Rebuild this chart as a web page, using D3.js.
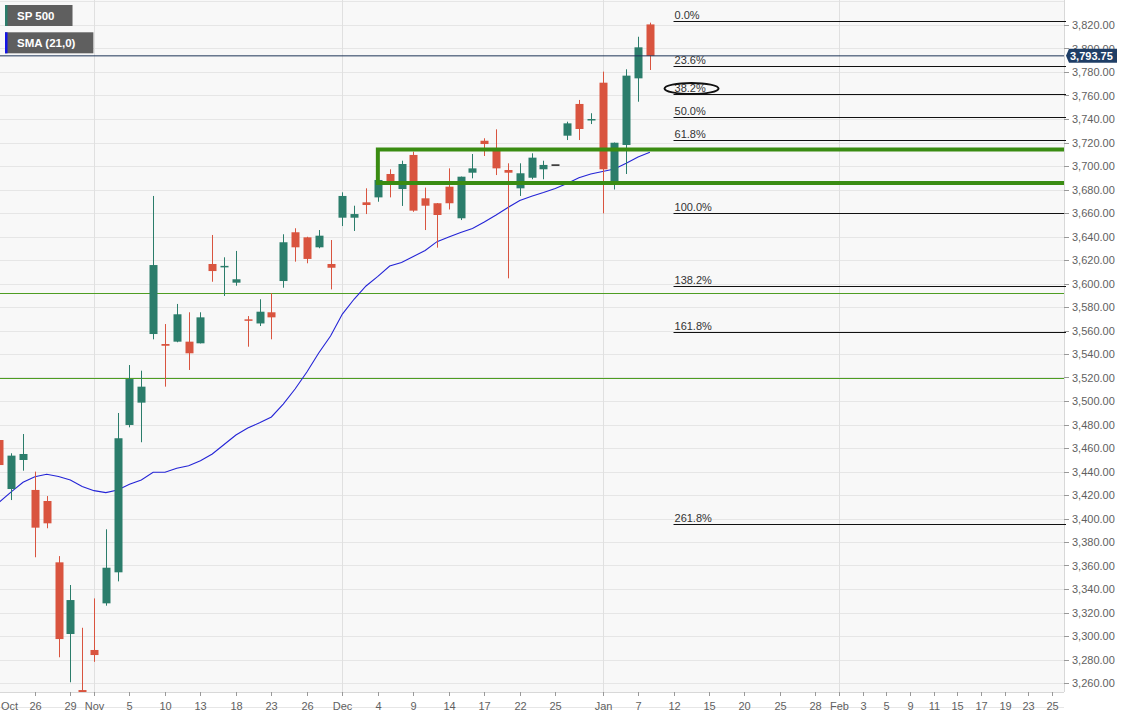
<!DOCTYPE html>
<html><head><meta charset="utf-8">
<script src="https://cdn.jsdelivr.net/npm/d3@7/dist/d3.min.js"></script>
<style>
html,body{margin:0;padding:0;background:#fff;}
text{font-family:"Liberation Sans",Arial,sans-serif;}
</style></head>
<body><svg id="c" width="1135" height="719"></svg>
<script>
// ---- data ----
const barDates = ["2020-10-21","2020-10-22","2020-10-23","2020-10-26","2020-10-27","2020-10-28","2020-10-29","2020-10-30",
"2020-11-02","2020-11-03","2020-11-04","2020-11-05","2020-11-06","2020-11-09","2020-11-10","2020-11-11","2020-11-12","2020-11-13",
"2020-11-16","2020-11-17","2020-11-18","2020-11-19","2020-11-20","2020-11-23","2020-11-24","2020-11-25","2020-11-26","2020-11-27","2020-11-30",
"2020-12-01","2020-12-02","2020-12-03","2020-12-04","2020-12-07","2020-12-08","2020-12-09","2020-12-10","2020-12-11",
"2020-12-14","2020-12-15","2020-12-16","2020-12-17","2020-12-18","2020-12-21","2020-12-22","2020-12-23","2020-12-24","2020-12-25",
"2020-12-28","2020-12-29","2020-12-30","2021-01-04","2021-01-05","2021-01-06","2021-01-07","2021-01-08"];
const futureDates = ["2021-01-11","2021-01-12","2021-01-13","2021-01-14","2021-01-15","2021-01-18","2021-01-19","2021-01-20","2021-01-21","2021-01-22",
"2021-01-25","2021-01-26","2021-01-27","2021-01-28","2021-01-29","2021-02-01","2021-02-02","2021-02-03","2021-02-04","2021-02-05",
"2021-02-08","2021-02-09","2021-02-10","2021-02-11","2021-02-12","2021-02-15","2021-02-16","2021-02-17","2021-02-18","2021-02-19",
"2021-02-22","2021-02-23","2021-02-24","2021-02-25","2021-02-26"];
const open  = [3466.8,3425.1,3449.8,3424.3,3414.9,3362.7,3301.7,3254,
3288.1,3327.8,3354.2,3479.6,3498.6,3557,3548.5,3550.5,3550.5,3549.1,
3616.6,3614.4,3600.7,3569.5,3566,3575.5,3602.1,3643.6,3639.3,3630.8,3616.6,
3656,3656,3669.1,3673.3,3693.2,3680.4,3709.4,3672.5,3668.3,
3682.4,3655.5,3694.3,3721.5,3715.1,3696.6,3681,3690,3697.2,3701.4,
3725.8,3752.8,3739.3,3770.9,3687.2,3717.9,3774.6,3820.5];
const high  = [3468,3455.5,3471.9,3439.9,3419.1,3368,3343.4,3307,
3332,3390.8,3489.8,3530.6,3525.8,3674.5,3565.5,3582.6,3575.5,3575.5,
3641.3,3622.3,3627.7,3572.3,3586.6,3591.7,3641.9,3647,3639.8,3645.5,3637,
3677.6,3666.2,3681,3689.5,3697.2,3704.5,3712.2,3681.6,3668.5,
3698,3691,3710.2,3723.6,3731.2,3702.3,3702.3,3710.8,3704.5,3701.4,
3737.7,3756.2,3744.9,3780.3,3720,3782.3,3810,3822];
const low   = [3431.3,3415.7,3440.7,3367,3391.7,3281.9,3260.6,3240,
3278,3325.8,3346.5,3477.6,3464.9,3552.5,3512.2,3550,3526.4,3549,
3601.5,3589.4,3598.1,3546.2,3563.8,3552.5,3596.4,3618.6,3617.2,3630,3595,
3648.9,3644.7,3659.1,3669.6,3673.3,3666,3661,3645.5,3630.5,
3663,3654,3689.5,3708.5,3692.3,3604.4,3674.5,3688.7,3688.7,3701.4,
3722.1,3722.1,3735.7,3659.7,3680,3693.2,3754.7,3781.7];
const close = [3445.5,3453.5,3454.9,3392.2,3395.9,3297.4,3330.6,3249,
3283.8,3358.1,3468.3,3518.7,3512.2,3615.7,3547,3573.8,3540.6,3571.2,
3610.6,3615,3603.6,3568.5,3576,3571.2,3635.1,3630.8,3620.9,3640.7,3613.4,
3674.5,3659.1,3666.8,3688.1,3686.1,3701.7,3662,3666.2,3658.3,
3668.3,3690.9,3698,3718.7,3698,3694.3,3693.8,3707.1,3700.9,3701.4,
3736.3,3731.5,3740,3697.2,3719.8,3776.9,3801,3793.75];
const sma21 = [3414,3422.6,3430.8,3435.6,3437.6,3435.7,3432.8,3427.2,
3423.7,3422,3424.3,3429.1,3432.8,3439.3,3439.3,3442.7,3444.9,3449.2,
3454.9,3463,3471.1,3477,3481.5,3486.4,3497.4,3510.2,3524.7,3540.9,3555.3,
3574,3586.8,3597.9,3606,3614.9,3617.9,3623,3628.1,3635.6,
3639.6,3643.4,3646.8,3652.3,3658.3,3664.7,3670.6,3674.2,3677.4,3680.9,
3685.1,3690,3693.2,3695.3,3697.4,3702.3,3707.7,3711.7];
const tickDates  = ["2020-10-21","2020-10-26","2020-10-29","2020-11-02","2020-11-05","2020-11-10","2020-11-13","2020-11-18","2020-11-23","2020-11-26",
"2020-12-01","2020-12-04","2020-12-09","2020-12-14","2020-12-17","2020-12-22","2020-12-25","2021-01-04","2021-01-07","2021-01-12","2021-01-15",
"2021-01-20","2021-01-25","2021-01-28","2021-02-01","2021-02-03","2021-02-05","2021-02-09","2021-02-11","2021-02-15","2021-02-17","2021-02-19","2021-02-23","2021-02-25"];
const tickLabels = ["Oct","26","29","Nov","5","10","13","18","23","26","Dec","4","9","14","17","22","25","Jan","7","12","15","20","25","28","Feb","3","5","9","11","15","17","19","23","25"];
const monthStarts = ["2020-11-02","2020-12-01","2021-01-04","2021-02-01"];
const priceTicks = d3.range(3260, 3821, 20);
const lastPrice = 3793.75;
const fibHigh = 3823.4, fibLow = 3660;
const fibLevels = [0, 0.236, 0.382, 0.5, 0.618, 1, 1.382, 1.618, 2.618];
const fibStart = "2021-01-12";
const boxTop = 3714, boxBottom = 3685.5, boxStart = "2020-12-04";
const supportLines = [3591.9, 3519.6];
const legendItems = ["SP 500", "SMA (21,0)"];

// ---- layout ----
const plotR = 1064, plotB = 692;
const allDates = barDates.concat(futureDates);
const idx = new Map(allDates.map((d,i)=>[d,i]));
const i0 = idx.get("2020-11-02");
const x = d3.scaleLinear().domain([i0, idx.get("2021-02-25")]).range([94, 1052]);
const y = d3.scaleLinear().domain([3260, 3820]).range([683, 25]);
const xd = d => x(idx.get(d));
const step = x(1) - x(0);
const bw = Math.round(step*0.66);

const svg = d3.select("#c");
svg.append("rect").attr("x",0).attr("y",0).attr("width",plotR).attr("height",plotB).attr("fill","#f8f8f8");
svg.append("defs").append("clipPath").attr("id","clip").append("rect")
  .attr("x",0).attr("y",0).attr("width",plotR).attr("height",plotB);

const grid = svg.append("g");
grid.selectAll("line.h").data(d3.range(3240, 3861, 20)).join("line")
  .attr("x1",0).attr("x2",plotR).attr("y1",d=>Math.round(y(d))+0.5).attr("y2",d=>Math.round(y(d))+0.5)
  .attr("stroke","#e6e6e6");
grid.selectAll("line.v").data(monthStarts).join("line")
  .attr("y1",0).attr("y2",plotB).attr("x1",d=>Math.round(xd(d))+0.5).attr("x2",d=>Math.round(xd(d))+0.5)
  .attr("stroke","#e0e0e0");

svg.append("line").attr("x1",plotR+0.5).attr("x2",plotR+0.5).attr("y1",0).attr("y2",plotB).attr("stroke","#d8d8d8");
svg.append("line").attr("x1",0).attr("x2",plotR).attr("y1",plotB+0.5).attr("y2",plotB+0.5).attr("stroke","#d8d8d8");

const g = svg.append("g").attr("clip-path","url(#clip)");

// support lines
g.selectAll("line.sup").data(supportLines).join("line")
  .attr("x1",0).attr("x2",plotR).attr("y1",d=>Math.round(y(d))+0.5).attr("y2",d=>Math.round(y(d))+0.5)
  .attr("stroke","#4e9d22").attr("stroke-width",1);

// SMA
const bars = barDates.map((d,i)=>({d, o:open[i], h:high[i], l:low[i], c:close[i], s:sma21[i]}));
g.append("path").datum(bars)
  .attr("d", d3.line().x(b=>xd(b.d)).y(b=>y(b.s)))
  .attr("fill","none").attr("stroke","#2424d6").attr("stroke-width",1.1);

// candles
const UP="#2b7d6b", DN="#d9543f";
const col = b => (b.o===b.c && b.h===b.l) ? "#222" : (b.c>=b.o ? UP : DN);
const cg = g.selectAll("g.candle").data(bars).join("g");
cg.append("line")
  .attr("x1",b=>Math.round(xd(b.d))+0.5).attr("x2",b=>Math.round(xd(b.d))+0.5)
  .attr("y1",b=>y(b.h)).attr("y2",b=>y(b.l)).attr("stroke",col).attr("stroke-width",1);
cg.append("rect")
  .attr("x",b=>Math.round(xd(b.d))-bw/2+0.5).attr("width",bw)
  .attr("y",b=>Math.min(y(b.o),y(b.c))).attr("height",b=>Math.max(1.5,Math.abs(y(b.o)-y(b.c))))
  .attr("fill",col);

// green consolidation box
const bx = xd(boxStart);
g.append("path")
  .attr("d", `M${plotR+2},${y(boxTop)} L${bx},${y(boxTop)} L${bx},${y(boxBottom)} L${plotR+2},${y(boxBottom)}`)
  .attr("fill","none").attr("stroke","#3a8c12").attr("stroke-width",4);

// price line
svg.append("line").attr("x1",0).attr("x2",plotR).attr("y1",y(lastPrice)).attr("y2",y(lastPrice))
  .attr("stroke","#1d3557").attr("stroke-width",1);

// fibonacci
const fx = xd(fibStart);
const fib = svg.append("g");
fibLevels.forEach(p=>{
  const v = fibHigh - p*(fibHigh-fibLow);
  const yy = Math.round(y(v))+0.5;
  fib.append("line").attr("x1",fx).attr("x2",plotR+2).attr("y1",yy).attr("y2",yy).attr("stroke","#111").attr("stroke-width",1);
  fib.append("text").attr("x",fx+1).attr("y",yy-2.5).attr("font-size",11).attr("fill","#333")
    .text(d3.format(".1f")(p*100)+"%");
  if (p===0.382) {
    fib.append("ellipse").attr("cx",fx+18).attr("cy",yy-6).attr("rx",27).attr("ry",5.5)
      .attr("fill","none").attr("stroke","#111").attr("stroke-width",2);
  }
});

// right axis
const ra = svg.append("g");
ra.selectAll("line").data(priceTicks).join("line")
  .attr("x1",plotR).attr("x2",plotR+5).attr("y1",d=>Math.round(y(d))+0.5).attr("y2",d=>Math.round(y(d))+0.5)
  .attr("stroke","#999");
ra.selectAll("text").data(priceTicks).join("text")
  .attr("x",plotR+8).attr("y",d=>y(d)+4).attr("font-size",11).attr("fill","#5f5f5f")
  .text(d=>d3.format(",.2f")(d));
// price label
const py = y(lastPrice);
svg.append("path").attr("d",`M${plotR+2},${py} L${plotR+5},${py-7} L${plotR+53},${py-7} L${plotR+53},${py+7} L${plotR+5},${py+7} Z`)
  .attr("fill","#1f3e66");
svg.append("text").attr("x",plotR+6).attr("y",py+4).attr("font-size",11).attr("font-weight","bold").attr("fill","#fff")
  .text(d3.format(",.2f")(lastPrice));

// bottom axis
const ba = svg.append("g");
tickDates.forEach((d,i)=>{
  const tx = Math.round(xd(d))+0.5;
  ba.append("line").attr("x1",tx).attr("x2",tx).attr("y1",plotB).attr("y2",plotB+4).attr("stroke","#999");
  const t = ba.append("text").attr("x",tx).attr("y",710).attr("font-size",11).attr("fill","#5f5f5f")
    .attr("text-anchor","middle").text(tickLabels[i]);
  const w = t.node().getComputedTextLength();
  if (tx - w/2 < 1) t.attr("text-anchor","start").attr("x",1);
});

// legend
const lg = svg.append("g");
const lgCols = ["#2b7d6b","#1414e6"];
legendItems.forEach((s,i)=>{
  const yy = 5 + i*27.3;
  const t = lg.append("text").attr("x",17).attr("y",yy+15).attr("font-size",11.5).attr("font-weight","bold").attr("fill","#fff").text(s);
  const w = t.node().getComputedTextLength();
  lg.insert("rect","text").attr("x",5).attr("y",yy).attr("width",w+30).attr("height",21).attr("fill","#5f5f5f");
  lg.insert("rect","text").attr("x",5).attr("y",yy).attr("width",2.5).attr("height",21).attr("fill",lgCols[i]);
});
</script></body></html>
